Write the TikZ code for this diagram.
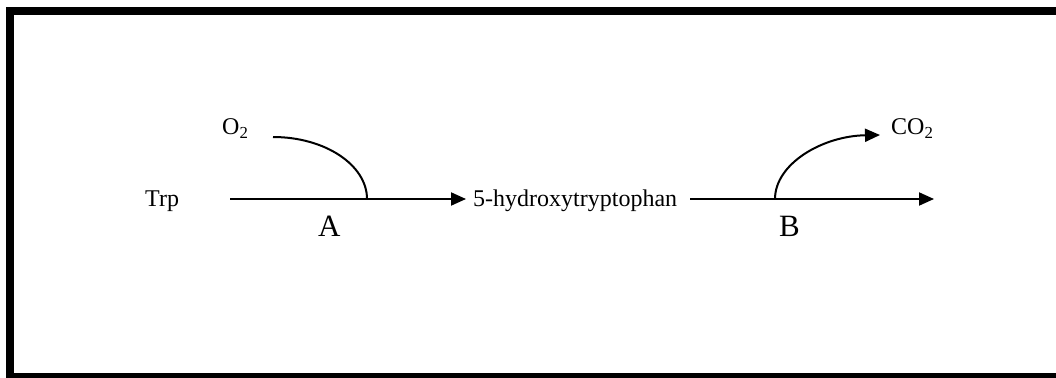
\documentclass[tikz,border=0pt]{standalone}
\usepackage{fontspec}
\setmainfont{Liberation Serif}
\usetikzlibrary{arrows.meta}
\tikzset{
  lbl/.style={inner sep=0pt, anchor=base west, font=\fontsize{24}{28}\selectfont},
  gas/.style={inner sep=0pt, anchor=base west, font=\fontsize{24}{28}\selectfont},
  enz/.style={inner sep=0pt, anchor=base west, font=\fontsize{31}{36}\selectfont},
  rxn/.style={line width=2pt, -{Triangle[length=15pt,width=13pt]}},
  side/.style={line width=2pt},
  frame/.style={line width=8pt}
}
\begin{document}
\begin{tikzpicture}[x=1pt,y=-1pt]
\useasboundingbox (0,0) rectangle (1056,377);
\begin{scope}
\clip (0,0) rectangle (1056,377);
\draw[frame] (10,11) rectangle (1080,377);
\end{scope}
% labels
\node[lbl] (trp) at (145,206.5) {Trp};
\node[lbl] (hyd) at (473,206.5) {5-hydroxytryptophan};
\node[gas] (o2) at (222,135) {O\textsubscript{2}};
\node[gas] (co2) at (891,135) {CO\textsubscript{2}};
\node[enz] (A) at (318,236.5) {A};
\node[enz] (B) at (779,236.5) {B};
% coordinates
\coordinate (s1) at (230,199);
\coordinate (e1) at (466,199);
\coordinate (j1) at (367,199);
\coordinate (o2s) at (273,137);
\coordinate (s2) at (690,199);
\coordinate (e2) at (934,199);
\coordinate (j2) at (775,199);
\coordinate (co2e) at (880,135);
% reactions
\draw[rxn] (s1) -- (e1);
\draw[side] (o2s) .. controls (325,137) and (367,165) .. (j1);
\draw[rxn] (s2) -- (e2);
\draw[rxn] (j2) .. controls (775,164) and (822,136) .. (co2e);
\end{tikzpicture}
\end{document}
